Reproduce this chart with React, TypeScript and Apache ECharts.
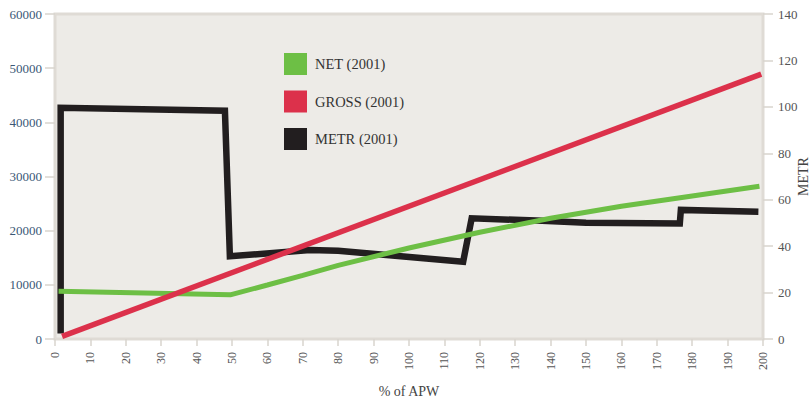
import React, { useEffect, useRef } from "react";
import * as echarts from "echarts";

const xTicks = { min: 0, max: 200, interval: 10 };
const leftTicks = { min: 0, max: 60000, interval: 10000 };
const rightTicks = { min: 0, max: 140, interval: 20 };

const seriesNames = ["NET (2001)", "GROSS (2001)", "METR (2001)"];

const netX = [1, 49.5, 60, 70, 80, 100, 120, 140, 160, 180, 199];
const netY = [8800, 8150, 9970, 11750, 13600, 16800, 19700, 22300, 24500, 26400, 28200];

const grossX = [2, 199.5];
const grossY = [490, 48900];

const metrX = [1.6, 1.6, 48, 49.4, 72, 80, 115.3, 117.7, 136, 150, 176.5, 176.8, 198.7];
const metrY = [2.4, 99.6, 98.3, 35.6, 38.3, 38, 33.3, 52, 51, 50.1, 49.8, 55.6, 54.8];

const zip = (xs: number[], ys: number[]) => xs.map((x, i) => [x, ys[i]]);

const FONT = "Liberation Serif";

export default function App() {
  const ref = useRef<HTMLDivElement>(null);
  useEffect(() => {
    const chart = echarts.init(ref.current!, null, { renderer: "svg" });
    chart.setOption({
      animation: false,
      textStyle: { fontFamily: FONT },
      grid: {
        left: 55,
        right: 49,
        top: 14,
        bottom: 62,
        containLabel: false,
        outerBoundsMode: "none",
        show: true,
        backgroundColor: "#edebe7",
        borderColor: "#dfdbd5",
        borderWidth: 3,
      },
      legend: {
        orient: "vertical",
        left: 284,
        top: 53,
        padding: 0,
        icon: "rect",
        itemWidth: 23,
        itemHeight: 22,
        itemGap: 15.5,
        data: seriesNames,
        textStyle: {
          fontFamily: FONT,
          fontSize: 14.5,
          color: "#333",
          padding: [0, 0, 0, 3],
        },
      },
      xAxis: {
        type: "value",
        ...xTicks,
        name: "% of APW",
        nameLocation: "middle",
        nameGap: 45,
        nameTextStyle: { fontFamily: FONT, fontSize: 14, color: "#444" },
        axisLine: { show: false },
        axisTick: { show: true, length: 7, lineStyle: { color: "#d8d4ce", width: 1.5 } },
        axisLabel: { rotate: 90, margin: 13, fontFamily: FONT, fontSize: 12, color: "#555" },
        splitLine: { show: false },
      },
      yAxis: [
        {
          type: "value",
          position: "left",
          ...leftTicks,
          axisLine: { show: false },
          axisTick: { show: true, length: 10, lineStyle: { color: "#d8d4ce", width: 1.5 } },
          axisLabel: {
            margin: 13,
            fontFamily: FONT,
            fontSize: 13,
            color: "#3b5876",
            formatter: (v: number) => String(v),
          },
          splitLine: { show: false },
        },
        {
          type: "value",
          position: "right",
          ...rightTicks,
          name: "METR",
          nameLocation: "middle",
          nameRotate: 90,
          nameGap: 33,
          nameMoveOverlap: false,
          nameTextStyle: { fontFamily: FONT, fontSize: 14, color: "#444" },
          axisLine: { show: false },
          axisTick: { show: true, length: 10, lineStyle: { color: "#d8d4ce", width: 1.5 } },
          axisLabel: { margin: 15, fontFamily: FONT, fontSize: 13, color: "#555" },
          splitLine: { show: false },
        },
      ],
      series: [
        {
          name: seriesNames[2],
          type: "line",
          yAxisIndex: 1,
          data: zip(metrX, metrY),
          showSymbol: false,
          color: "#221e1f",
          lineStyle: { width: 6.5, color: "#221e1f", join: "miter", cap: "butt" },
          z: 2,
        },
        {
          name: seriesNames[0],
          type: "line",
          yAxisIndex: 0,
          data: zip(netX, netY),
          showSymbol: false,
          color: "#6dbf45",
          lineStyle: { width: 5, color: "#6dbf45", cap: "butt" },
          z: 3,
        },
        {
          name: seriesNames[1],
          type: "line",
          yAxisIndex: 0,
          data: zip(grossX, grossY),
          showSymbol: false,
          color: "#dc314b",
          lineStyle: { width: 5.5, color: "#dc314b", cap: "butt" },
          z: 4,
        },
      ],
    });
    return () => chart.dispose();
  }, []);
  return <div ref={ref} style={{ width: 812, height: 401, position: "absolute", left: 0, top: 0 }} />;
}
